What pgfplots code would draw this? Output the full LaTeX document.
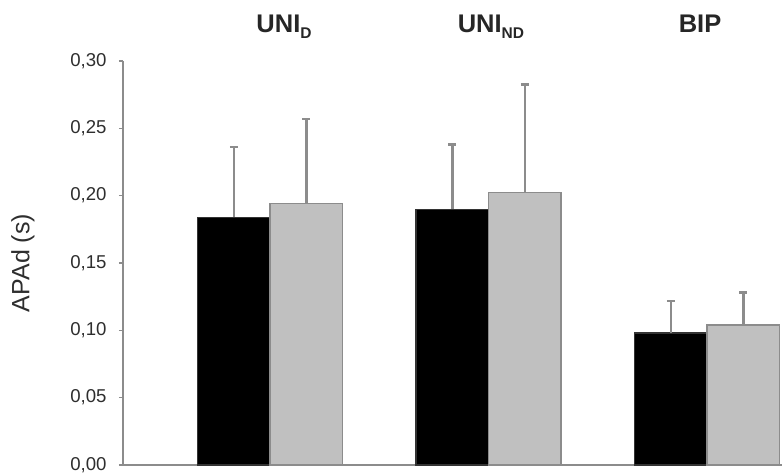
\documentclass[border=0pt]{standalone}
\usepackage{fontspec}
\setmainfont{Liberation Sans}
\usepackage{pgfplots}
\pgfplotsset{compat=1.18}
\definecolor{axgray}{HTML}{8C8C8C}
\definecolor{bargray}{HTML}{C0C0C0}
\definecolor{txtgray}{HTML}{2E2E2E}
\begin{document}
\begin{tikzpicture}
\path[use as bounding box] (-123pt,-11pt) rectangle (661pt,465pt);
\begin{axis}[
  at={(0,0)}, anchor=south west,
  scale only axis, width=659pt, height=404pt,
  xmin=-0.673, xmax=2.343, ymin=0, ymax=0.30,
  axis x line*=bottom, axis y line*=left,
  axis line style={axgray, line width=2.4pt},
  xtick=\empty,
  ytick={0,0.05,0.10,0.15,0.20,0.25,0.30},
  tick style={axgray, line width=1.5pt},
  tick align=outside, major tick length=4pt,
  /pgf/number format/assume math mode=true,
  y tick label style={xshift=-9pt, /pgf/number format/.cd, fixed, fixed zerofill, precision=2, use comma},
  ticklabel style={font=\fontsize{18.6}{18.6}\selectfont, text=txtgray},
  ybar=0pt, bar width=72.5pt,
  clip=false,
  ylabel={APAd (s)},
  every axis y label/.style={at={(axis description cs:-0.1517,0.5)}, rotate=90, anchor=center, font=\fontsize{25}{25}\selectfont, text=txtgray},
  error bars/y dir=plus, error bars/y explicit,
  error bars/error bar style={axgray, line width=2.4pt},
  error bars/error mark options={rotate=90, mark size=4pt, axgray, line width=2.4pt},
]
\addplot[fill=black, draw=black!80, line width=1.2pt] coordinates {
  (0,0.184) +- (0,0.052)
  (1,0.190) +- (0,0.048)
  (2,0.098) +- (0,0.024)
};
\addplot[fill=bargray, draw=axgray, line width=1.2pt] coordinates {
  (0,0.194) +- (0,0.063)
  (1,0.2025) +- (0,0.080)
  (2,0.104) +- (0,0.024)
};
\node[anchor=base, font=\bfseries\fontsize{25.5}{25.5}\selectfont, text=black!85] at (axis cs:0.064,0.3208) {UNI\raisebox{-6pt}{\fontsize{15.5}{15.5}\selectfont D}};
\node[anchor=base, font=\bfseries\fontsize{25.5}{25.5}\selectfont, text=black!85] at (axis cs:1.011,0.3208) {UNI\raisebox{-6pt}{\fontsize{15.5}{15.5}\selectfont ND}};
\node[anchor=base, font=\bfseries\fontsize{25.5}{25.5}\selectfont, text=black!85] at (axis cs:1.968,0.3208) {BIP};
\end{axis}
\end{tikzpicture}
\end{document}
